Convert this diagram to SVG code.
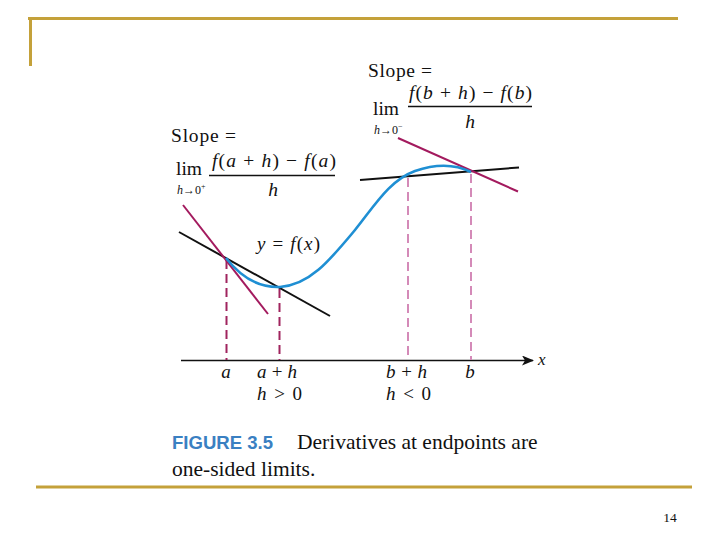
<svg xmlns="http://www.w3.org/2000/svg" width="720" height="540" viewBox="0 0 720 540">
<defs>
<style>
.frame{stroke:#c4a13a;stroke-width:3;fill:none}
.t{font-family:"Liberation Serif","Times New Roman",serif;fill:#111}
.i{font-style:italic}
.tan{stroke:#a31a5e;stroke-width:2;fill:none}
.sec{stroke:#111;stroke-width:2;fill:none}
.dashA{stroke:#a0245e;stroke-width:2;stroke-dasharray:9 5;fill:none}
.dashB{stroke:#d48ab8;stroke-width:2;stroke-dasharray:9 5;fill:none}
.curve{stroke:#1f8fd3;stroke-width:2.6;fill:none}
.bar{stroke:#111;stroke-width:1.5}
</style>
<marker id="arr" markerWidth="12" markerHeight="10" refX="11" refY="5" orient="auto" markerUnits="userSpaceOnUse">
<path d="M0,0 L12,5 L0,10 L3,5 Z" fill="#111"/>
</marker>
</defs>
<rect width="720" height="540" fill="#fff"/>
<g id="frame">
<line class="frame" x1="28" y1="18.5" x2="678" y2="18.5"/>
<line class="frame" x1="30.5" y1="17" x2="30.5" y2="66"/>
<line class="frame" x1="36" y1="487" x2="692" y2="487"/>
</g>
<g id="connectors">
<line x1="181" y1="360.5" x2="533" y2="360.5" stroke="#111" stroke-width="1.6" marker-end="url(#arr)"/>
<line class="dashA" x1="226.5" y1="260" x2="226.5" y2="360"/>
<line class="dashA" x1="279.5" y1="289" x2="279.5" y2="360"/>
<line class="dashB" x1="408" y1="178" x2="408" y2="360"/>
<line class="dashB" x1="471" y1="174" x2="471" y2="360"/>
<line class="sec" x1="179" y1="232" x2="330" y2="316"/>
<line class="tan" x1="183" y1="205" x2="268" y2="314"/>
<line class="sec" x1="360" y1="180" x2="519" y2="167.5"/>
<line class="tan" x1="398" y1="138" x2="518" y2="191.5"/>
<path class="curve" d="M226,258 C240,276 258,288 280,287 C310,285 330,260 355,230 C375,205 390,180 415,171 C435,164 455,164 471,172"/>
</g>
<g id="label-curve"><text class="t" x="257" y="250" font-size="19" textLength="63" lengthAdjust="spacing"><tspan class="i">y</tspan> = <tspan class="i">f</tspan>(<tspan class="i">x</tspan>)</text></g>
<g id="label-axis"><text class="t i" x="538" y="365" font-size="17">x</text></g>
<g id="label-a"><text class="t i" x="226" y="378" font-size="19" text-anchor="middle">a</text></g>
<g id="label-ah"><text class="t" x="257" y="378" font-size="19" textLength="40" lengthAdjust="spacing"><tspan class="i">a</tspan> + <tspan class="i">h</tspan></text>
<text class="t" x="257" y="400" font-size="19" textLength="45" lengthAdjust="spacing"><tspan class="i">h</tspan> &gt; 0</text></g>
<g id="label-bh"><text class="t" x="386" y="378" font-size="19" textLength="41" lengthAdjust="spacing"><tspan class="i">b</tspan> + <tspan class="i">h</tspan></text>
<text class="t" x="386" y="400" font-size="19" textLength="45" lengthAdjust="spacing"><tspan class="i">h</tspan> &lt; 0</text></g>
<g id="label-b"><text class="t i" x="470" y="378" font-size="19" text-anchor="middle">b</text></g>
<g id="formula-left">
<text class="t" x="171" y="142" font-size="19.5" textLength="65" lengthAdjust="spacing">Slope =</text>
<text class="t" x="176" y="175" font-size="19.5">lim</text>
<text class="t" x="177" y="194" font-size="12"><tspan class="i">h</tspan>→0<tspan font-size="8" dy="-5">+</tspan></text>
<text class="t" x="212" y="167" font-size="19.5" textLength="124" lengthAdjust="spacing"><tspan class="i">f</tspan>(<tspan class="i">a</tspan> + <tspan class="i">h</tspan>) − <tspan class="i">f</tspan>(<tspan class="i">a</tspan>)</text>
<line class="bar" x1="209" y1="175.5" x2="335" y2="175.5"/>
<text class="t i" x="273" y="196" font-size="19.5" text-anchor="middle">h</text>
</g>
<g id="formula-right">
<text class="t" x="368" y="77" font-size="19.5" textLength="64" lengthAdjust="spacing">Slope =</text>
<text class="t" x="373" y="115" font-size="19.5">lim</text>
<text class="t" x="374" y="134" font-size="12"><tspan class="i">h</tspan>→0<tspan font-size="8" dy="-5">−</tspan></text>
<text class="t" x="409" y="99" font-size="19.5" textLength="123" lengthAdjust="spacing"><tspan class="i">f</tspan>(<tspan class="i">b</tspan> + <tspan class="i">h</tspan>) − <tspan class="i">f</tspan>(<tspan class="i">b</tspan>)</text>
<line class="bar" x1="408" y1="106.5" x2="532" y2="106.5"/>
<text class="t i" x="470" y="128" font-size="19.5" text-anchor="middle">h</text>
</g>
<g id="caption">
<text x="172" y="449" font-family="'Liberation Sans',Arial,sans-serif" font-weight="bold" font-size="19" fill="#3a80c2" textLength="101" lengthAdjust="spacingAndGlyphs">FIGURE 3.5</text>
<text class="t" x="297" y="449" font-size="21.5">Derivatives at endpoints are</text>
<text class="t" x="172" y="476" font-size="21.5">one-sided limits.</text>
</g>
<g id="page-number"><text class="t" x="670" y="522" font-size="13.5" text-anchor="middle">14</text></g>
</svg>
